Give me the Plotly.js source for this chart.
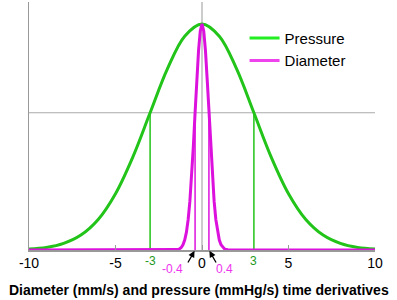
<!DOCTYPE html>
<html>
<head>
<meta charset="utf-8">
<script src="https://cdn.plot.ly/plotly-3.0.1.min.js"></script>
<style>html,body{margin:0;padding:0;background:#fff;}#chart{width:397px;height:300px;}</style>
</head>
<body>
<div id="chart"></div>
<script>
// Pressure curve, normalised height
const pressureX = [-10,-9,-8,-7,-6,-5,-4,-3,-2,-1,0,1,2,3,4,5,6,7,8,9,10];
const pressureY = [0.004,0.011,0.029,0.066,0.135,0.249,0.411,0.607,0.801,0.946,1,0.946,0.801,0.607,0.411,0.249,0.135,0.066,0.029,0.011,0.004];
// Diameter curve
const diameterX = [-10,-1.5,-1.4,-1.3,-1.2,-1.1,-1.0,-0.9,-0.8,-0.7,-0.6,-0.5,-0.4,-0.3,-0.2,-0.1,0,0.1,0.2,0.3,0.4,0.5,0.6,0.7,0.8,0.9,1.0,1.1,1.2,1.3,1.4,1.5,10];
const diameterY = [0,0.001,0.002,0.005,0.011,0.023,0.044,0.079,0.135,0.216,0.325,0.458,0.607,0.755,0.882,0.969,1,0.969,0.882,0.755,0.607,0.458,0.325,0.216,0.135,0.079,0.044,0.023,0.011,0.005,0.002,0.001,0];
// Marked points (one standard deviation)
const pressureMarks = [-3, 3];
const diameterMarks = [-0.4, 0.4];
const markLevel = 0.607;
const xTicks = [-10,-5,0,5,10];
const xTickText = ['-10','-5','0','5','10'];
const seriesNames = ['Pressure','Diameter'];
const xTitle = 'Diameter (mm/s) and pressure (mmHg/s) time derivatives';

const green = '#22c41a', magenta = '#dd11dd';
const traces = [];
pressureMarks.forEach(m => traces.push({x:[m,m], y:[0,markLevel], mode:'lines', line:{color:green,width:1.5}, showlegend:false, hoverinfo:'skip'}));
diameterMarks.forEach(m => traces.push({x:[m,m], y:[0,markLevel], mode:'lines', line:{color:magenta,width:1.5}, showlegend:false, hoverinfo:'skip'}));
traces.push({x:pressureX, y:pressureY, mode:'lines', line:{color:green,width:3,shape:'spline'}, showlegend:false});
traces.push({x:diameterX, y:diameterY, mode:'lines', line:{color:magenta,width:3}, showlegend:false});
traces.push({x:[null], y:[null], mode:'lines', name:seriesNames[0], line:{color:'#22ee22',width:3}});
traces.push({x:[null], y:[null], mode:'lines', name:seriesNames[1], line:{color:'#ee44ee',width:3}});

const annotations = [];
pressureMarks.forEach(m => annotations.push({x:m, y:0, xref:'x', yref:'y', yanchor:'top', yshift:-2, text:String(m), showarrow:false, font:{family:'Liberation Sans, Arial', size:12, color:'#229922'}}));
diameterMarks.forEach(m => annotations.push({x:m, y:0, xref:'x', yref:'y', yanchor:'top', xanchor:(m<0?'right':'left'), xshift:(m<0?-10:5), yshift:-10, text:String(m), showarrow:false, font:{family:'Liberation Sans, Arial', size:12, color:'#ee33ee'}}));
diameterMarks.forEach(m => annotations.push({x:m, y:0, xref:'x', yref:'y', text:'', showarrow:true, arrowhead:2, arrowsize:1, arrowwidth:1.3, arrowcolor:'#000', ax:(m<0?-8:8), ay:14, standoff:1}));
annotations.push({x:0.49, y:0, xref:'paper', yref:'paper', yanchor:'middle', yshift:-40, text:'<b>'+xTitle+'</b>', showarrow:false, font:{family:'Liberation Sans, Arial', size:14, color:'#000'}});

const layout = {
  width:397, height:300,
  margin:{l:29, r:22, t:2, b:50},
  paper_bgcolor:'#fff', plot_bgcolor:'#fff',
  font:{family:'Liberation Sans, Arial', size:14, color:'#000'},
  showlegend:true,
  legend:{x:0.623, y:0.92, xanchor:'left', yanchor:'top', bgcolor:'rgba(0,0,0,0)', font:{size:15}, tracegroupgap:0},
  xaxis:{range:[-10,10], tickvals:xTicks, ticktext:xTickText, ticks:'inside', ticklen:5, tickcolor:'#999', showgrid:false, zeroline:false, showline:true, linecolor:'#999', linewidth:1.5, tickfont:{size:14}},
  yaxis:{range:[0,1.097], showticklabels:false, ticks:'', showgrid:false, zeroline:false, showline:true, linecolor:'#999', linewidth:1.5},
  shapes:[
    {type:'line', xref:'x', yref:'paper', x0:0, x1:0, y0:0, y1:1, line:{color:'#aaa', width:1.2}, layer:'below'},
    {type:'line', xref:'x', yref:'y', x0:-10, x1:10, y0:markLevel, y1:markLevel, line:{color:'#aaa', width:1.2}, layer:'below'}
  ],
  annotations:annotations
};
Plotly.newPlot('chart', traces, layout, {displayModeBar:false, staticPlot:true});
</script>
</body>
</html>
